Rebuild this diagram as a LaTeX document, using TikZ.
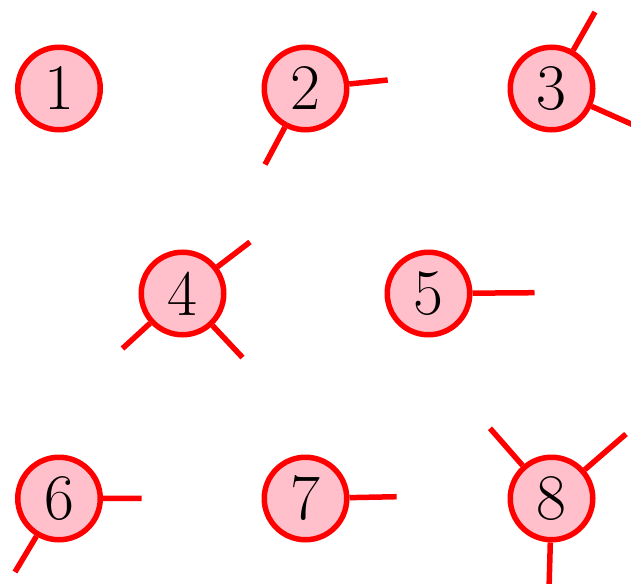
\documentclass[tikz,border=0pt]{standalone}
\definecolor{nodepink}{RGB}{255,192,203}
\begin{document}
\begin{tikzpicture}[x=1pt,y=-1pt,
  vertex/.style={circle,draw=red,fill=nodepink,line width=5.5pt,
    minimum size=82.5pt,inner sep=0pt,
    font=\fontsize{65}{78}\selectfont},
  stub/.style={draw=red,line width=5.5pt}]
\useasboundingbox (0,0) rectangle (631,583);
% vertices
\node[vertex] (n1) at (59,88.5) {1};
\node[vertex] (n2) at (305.5,88.5) {2};
\node[vertex] (n3) at (551.5,88.5) {3};
\node[vertex] (n4) at (182.5,293.5) {4};
\node[vertex] (n5) at (428.5,293.5) {5};
\node[vertex] (n6) at (59,498.5) {6};
\node[vertex] (n7) at (305.5,498.5) {7};
\node[vertex] (n8) at (551.5,498.5) {8};
% free ends of the half-edges
\coordinate (e2a) at (387.7,80);
\coordinate (e2b) at (265,164.5);
\coordinate (e3a) at (595,12);
\coordinate (e3b) at (638,127);
\coordinate (e4a) at (250,242);
\coordinate (e4b) at (122.5,348.5);
\coordinate (e4c) at (242.5,357.5);
\coordinate (e5a) at (534.5,292.7);
\coordinate (e6a) at (141.7,498.3);
\coordinate (e6b) at (15,572);
\coordinate (e7a) at (396.7,496.7);
\coordinate (e8a) at (490,428.3);
\coordinate (e8b) at (626,434);
\coordinate (e8c) at (549,590);
% half-edges
\draw[stub] (n2) -- (e2a);
\draw[stub] (n2) -- (e2b);
\draw[stub] (n3) -- (e3a);
\draw[stub] (n3) -- (e3b);
\draw[stub] (n4) -- (e4a);
\draw[stub] (n4) -- (e4b);
\draw[stub] (n4) -- (e4c);
\draw[stub] (n5) -- (e5a);
\draw[stub] (n6) -- (e6a);
\draw[stub] (n6) -- (e6b);
\draw[stub] (n7) -- (e7a);
\draw[stub] (n8) -- (e8a);
\draw[stub] (n8) -- (e8b);
\draw[stub] (n8) -- (e8c);
\end{tikzpicture}
\end{document}
